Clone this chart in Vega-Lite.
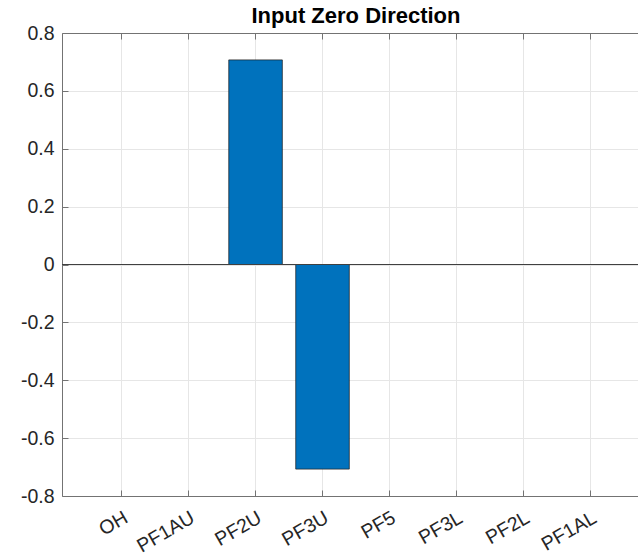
{
  "$schema": "https://vega.github.io/schema/vega-lite/v6.json",
  "autosize": {"type": "none"},
  "padding": {"left": 62, "top": 33, "right": 0, "bottom": 57},
  "width": 576,
  "height": 463,
  "background": "white",
  "title": {
    "text": "Input Zero Direction",
    "font": "Liberation Sans",
    "fontSize": 22,
    "fontWeight": "bold",
    "color": "#000000",
    "anchor": "middle",
    "baseline": "top",
    "offset": -5,
    "dx": 6
  },
  "config": {
    "view": {"stroke": null},
    "axis": {
      "labelFont": "Liberation Sans",
      "labelFontSize": 19.5,
      "labelColor": "#262626",
      "domainColor": "#737373",
      "domainWidth": 1,
      "tickColor": "#737373",
      "gridColor": "#e6e6e6",
      "gridWidth": 1
    }
  },
  "data": {
    "values": [
      {"input": "OH", "value": 0},
      {"input": "PF1AU", "value": 0},
      {"input": "PF2U", "value": 0.7071},
      {"input": "PF3U", "value": -0.7071},
      {"input": "PF5", "value": 0},
      {"input": "PF3L", "value": 0},
      {"input": "PF2L", "value": 0},
      {"input": "PF1AL", "value": 0}
    ]
  },
  "layer": [
    {
      "mark": {"type": "bar", "color": "#0072BD", "stroke": "#1a1a1a", "strokeWidth": 0.7, "clip": true},
      "encoding": {
        "x": {
          "field": "input",
          "type": "nominal",
          "sort": null,
          "scale": {"range": [0, 588], "paddingInner": 0.2, "paddingOuter": 0.49},
          "axis": {
            "title": null,
            "orient": "bottom",
            "labelAngle": -30,
            "grid": true,
            "tickSize": -6,
            "labelPadding": 18
          }
        },
        "y": {
          "field": "value",
          "type": "quantitative",
          "scale": {"domain": [-0.8, 0.8], "nice": false, "zero": false},
          "axis": {
            "title": null,
            "values": [-0.8, -0.6, -0.4, -0.2, 0, 0.2, 0.4, 0.6, 0.8],
            "labelExpr": "datum.value == 0 ? '0' : replace(format(datum.value, '.1f'), '\u2212', '-')",
            "grid": true,
            "tickSize": -6,
            "labelPadding": 14
          }
        }
      }
    },
    {
      "mark": {"type": "rule", "color": "#404040", "strokeWidth": 1},
      "encoding": {"y": {"datum": 0, "type": "quantitative"}}
    },
    {
      "mark": {"type": "bar", "opacity": 0},
      "encoding": {
        "x": {
          "field": "input",
          "type": "nominal",
          "sort": null,
          "axis": {"title": null, "orient": "top", "labels": false, "grid": false, "tickSize": -6}
        },
        "y": {"field": "value", "type": "quantitative"}
      }
    }
  ],
  "resolve": {"axis": {"x": "independent"}}
}
